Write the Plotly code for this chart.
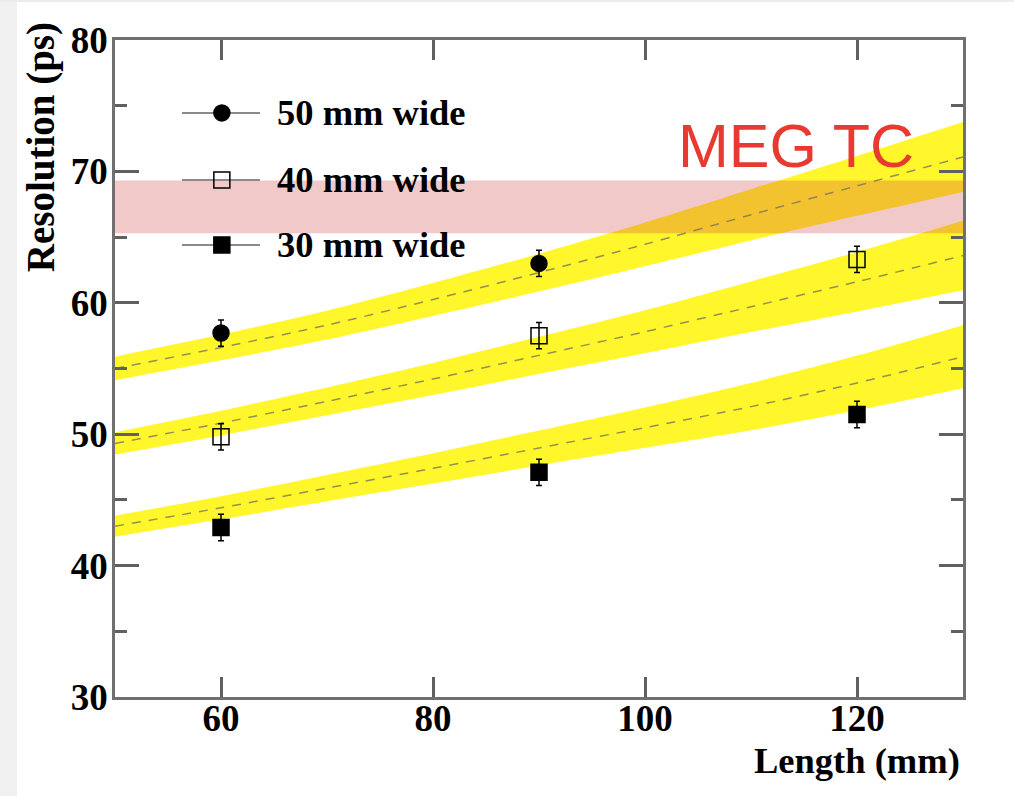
import plotly.graph_objects as go

# Measured resolution vs. counter length for three counter widths
lengths = [60, 90, 120]
res_50mm = [57.7, 63.0]
res_40mm = [49.8, 57.5, 63.3]
res_30mm = [42.9, 47.1, 51.5]
err_50mm = [1.0, 1.0]
err_40mm = [1.0, 1.0, 1.0]
err_30mm = [1.0, 1.0, 1.0]

# Expected-resolution curves (centre and half-width of the band)
curve_x = [50, 60, 70, 80, 90, 100, 110, 120, 130]
curve_50mm = [55.0, 56.6, 58.3, 60.25, 62.3, 64.45, 66.7, 68.9, 71.1]
curve_40mm = [49.3, 50.85, 52.5, 54.2, 56.0, 57.8, 59.7, 61.6, 63.6]
curve_30mm = [43.0, 44.4, 45.9, 47.4, 48.95, 50.5, 52.1, 53.9, 55.9]
halfwidth_50mm = [0.9, 0.98, 1.1, 1.25, 1.44, 1.67, 1.95, 2.28, 2.66]
halfwidth_40mm = [0.85, 0.94, 1.06, 1.22, 1.41, 1.64, 1.93, 2.26, 2.64]
halfwidth_30mm = [0.8, 0.88, 1.0, 1.15, 1.33, 1.54, 1.8, 2.08, 2.4]

# MEG timing counter reference band
meg_x = [50, 130]
meg_low = 65.3
meg_high = 69.3

legend_labels = ["50 mm wide", "40 mm wide", "30 mm wide"]
legend_symbols = ["circle", "square-open", "square"]

SERIF = "Liberation Serif, Times New Roman, serif"
YELLOW = "#fff62c"

fig = go.Figure()

# yellow bands
for c, h in [(curve_50mm, halfwidth_50mm), (curve_40mm, halfwidth_40mm), (curve_30mm, halfwidth_30mm)]:
    lo = [a - b for a, b in zip(c, h)]
    hi = [a + b for a, b in zip(c, h)]
    fig.add_trace(go.Scatter(x=curve_x, y=lo, mode="lines",
                             line=dict(width=0, shape="spline", smoothing=0.8),
                             hoverinfo="skip"))
    fig.add_trace(go.Scatter(x=curve_x, y=hi, mode="lines",
                             line=dict(width=0, shape="spline", smoothing=0.8),
                             fill="tonexty", fillcolor=YELLOW, hoverinfo="skip"))

# MEG TC band
fig.add_trace(go.Scatter(x=[meg_x[0], meg_x[1], meg_x[1], meg_x[0]],
                         y=[meg_low, meg_low, meg_high, meg_high],
                         mode="lines", line=dict(width=0), fill="toself",
                         fillcolor="rgba(207,54,54,0.27)", hoverinfo="skip"))

# dashed central curves
for c in [curve_50mm, curve_40mm, curve_30mm]:
    fig.add_trace(go.Scatter(x=curve_x, y=c, mode="lines",
                             line=dict(color="rgba(120,120,90,0.8)", width=1.5,
                                       dash="9px,8px", shape="spline", smoothing=0.8)))

# measured points
def points(x, y, e, symbol):
    return go.Scatter(x=x, y=y, mode="markers",
                      marker=dict(symbol=symbol, size=16, color="black",
                                  line=dict(color="black", width=1.5)),
                      error_y=dict(type="data", array=e, color="black", thickness=1.5, width=3))

fig.add_trace(points(lengths[:2], res_50mm, err_50mm, "circle"))
fig.add_trace(points(lengths, res_40mm, err_40mm, "square-open"))
fig.add_trace(points(lengths, res_30mm, err_30mm, "square"))

# legend drawn on an overlay frame spanning the plot area
leg_y = [0.889, 0.787, 0.688]
for yy in leg_y:
    fig.add_trace(go.Scatter(x=[0.079, 0.171], y=[yy, yy], mode="lines",
                             line=dict(color="#8a8a8a", width=2),
                             xaxis="x2", yaxis="y2", hoverinfo="skip"))
fig.add_trace(go.Scatter(x=[0.126] * 3, y=leg_y, mode="markers",
                         marker=dict(symbol=legend_symbols, size=16, color="black",
                                     line=dict(color="black", width=1.5)),
                         xaxis="x2", yaxis="y2", hoverinfo="skip"))
for yy, lab in zip(leg_y, legend_labels):
    fig.add_annotation(x=0.189, y=yy, xref="paper", yref="paper", text=lab,
                       showarrow=False, xanchor="left", yanchor="middle",
                       font=dict(family=SERIF, size=36.5, color="black", weight="bold"))

# MEG TC label
fig.add_annotation(x=0.8036, y=0.839, xref="paper", yref="paper", text="MEG TC",
                   showarrow=False, xanchor="center", yanchor="middle",
                   font=dict(family="Liberation Sans, Arial, sans-serif", size=61, color="#e83a30"))

# axis titles
fig.add_annotation(x=0.9988, y=-0.097, xref="paper", yref="paper", text="Length (mm)",
                   showarrow=False, xanchor="right", yanchor="middle",
                   font=dict(family=SERIF, size=36.5, color="black", weight="bold"))
fig.add_annotation(x=-0.0873, y=1.03, xref="paper", yref="paper", text="Resolution (ps)",
                   textangle=-90, showarrow=False, xanchor="center", yanchor="top",
                   font=dict(family=SERIF, size=39, color="black", weight="bold"))

axis_common = dict(showgrid=False, zeroline=False, showline=True, linecolor="#707070",
                   linewidth=2.5, mirror="ticks", ticks="inside", tickcolor="#606060",
                   tickwidth=2.5,
                   tickfont=dict(family=SERIF, size=37, color="black", weight="bold"))

fig.update_layout(
    width=1014, height=796,
    margin=dict(l=115, r=51, t=40, b=99),
    plot_bgcolor="white", paper_bgcolor="white",
    showlegend=False,
    xaxis=dict(range=[50, 130], tickvals=[60, 80, 100, 120], ticklen=20,
               ticklabelstandoff=-13, **axis_common),
    yaxis=dict(range=[30, 80], tickvals=[30, 40, 50, 60, 70, 80], ticklen=24,
               ticklabelstandoff=-3,
               minor=dict(tickvals=[35, 45, 55, 65, 75], ticklen=12, ticks="inside",
                          tickcolor="#606060", tickwidth=2.5),
               **axis_common),
    xaxis2=dict(overlaying="x", anchor="y2", range=[0, 1], visible=False),
    yaxis2=dict(overlaying="y", anchor="x2", range=[0, 1], visible=False),
    shapes=[
        dict(type="rect", xref="paper", yref="paper", x0=-0.2, x1=(17 - 115) / 848,
             y0=-0.3, y1=1.2, fillcolor="#f0f0f0", line=dict(width=0), layer="below"),
        dict(type="rect", xref="paper", yref="paper", x0=-0.2, x1=1.2,
             y0=(697 - 2) / 657, y1=1.2, fillcolor="#ececec", line=dict(width=0), layer="below"),
    ],
)

fig.write_html("out.html")
